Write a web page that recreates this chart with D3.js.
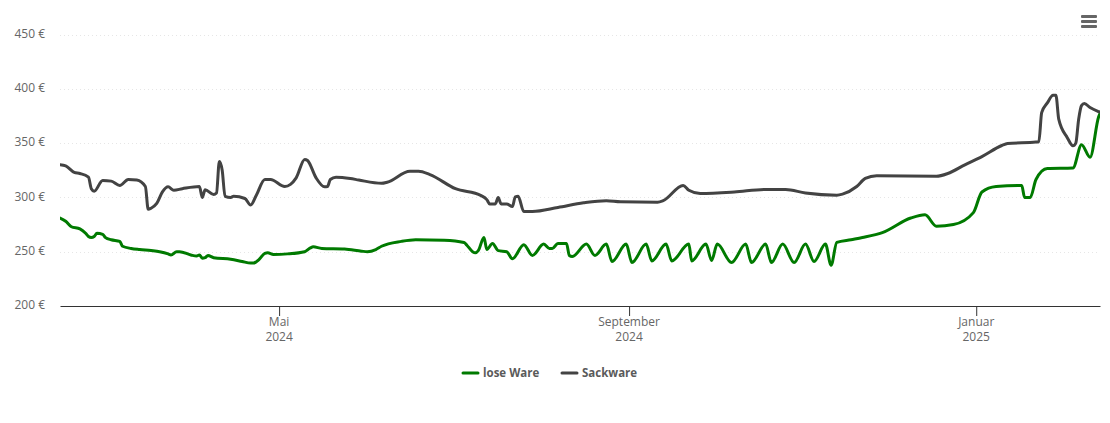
<!DOCTYPE html>
<html>
<head>
<meta charset="utf-8">
<script src="https://cdn.jsdelivr.net/npm/d3@7"></script>
<style>
  html, body { margin: 0; padding: 0; background: #fff; }
  text { font-family: "Open Sans", sans-serif; }
</style>
</head>
<body>
<svg id="chart" width="1110" height="423"></svg>
<script>
const START_DATE = new Date(2024, 1, 14);
const END_DATE = new Date(2025, 1, 13, 12);

const Y_TICKS = [200, 250, 300, 350, 400, 450];
const X_TICKS = [new Date(2024, 4, 1), new Date(2024, 8, 1), new Date(2025, 0, 1)];
const X_TICK_LABELS = [["Mai", "2024"], ["September", "2024"], ["Januar", "2025"]];
const SERIES_NAMES = ["lose Ware", "Sackware"];
const SERIES_COLORS = ["#007a00", "#434343"];

// days since START_DATE
const looseDays = [0, 2, 4, 7, 9, 10, 11, 12, 13, 15, 16, 18, 21, 22, 25, 28, 32, 35, 38, 39, 41, 42, 46, 48, 49, 50, 51, 52, 54, 60, 64, 67, 68, 70, 72, 73, 75, 80, 86, 88, 89, 92, 100, 106, 108, 111, 113, 120, 125, 135, 142, 143, 145, 146, 147, 149, 150, 152, 154, 157, 159, 163, 166, 170, 172, 173, 175, 178, 179, 180, 185, 188, 192, 194, 199, 201, 206, 208, 213, 215, 221, 222, 227, 229, 231, 236, 241, 243, 248, 250, 254, 258, 262, 265, 269, 271, 273, 278, 282, 289, 299, 304, 308, 314, 321, 324, 329, 338, 339, 341, 343, 347, 356, 359, 362, 365, 366];
const looseValues = [281, 278, 273, 271, 267, 264, 263, 264, 267, 266, 263, 261, 259.5, 255, 253, 252, 251, 250, 248, 247, 250, 250, 247, 246, 247, 244, 244.5, 246.5, 244.5, 243, 241, 239.5, 239.5, 243, 248.5, 249, 247.5, 248, 250, 253.5, 254.5, 253, 252.5, 250.5, 250, 252, 255, 259.5, 261, 260.5, 258.5, 256, 250, 249, 251, 263, 252, 257.5, 251, 250, 243.5, 256.5, 246.5, 257, 253, 253, 257.5, 257.5, 246.5, 245.5, 257, 246.5, 257, 241, 257, 240, 257, 241.5, 257, 241.5, 257, 241.5, 257, 242, 257, 240, 257, 240, 257, 240, 257, 240, 257, 241, 257, 237.5, 258.5, 261, 263, 267.5, 281, 284, 273.5, 275, 286, 305, 310, 311, 300, 300, 316.5, 326.5, 327, 348.5, 337, 374, 380];

const sackDays = [0, 2, 5, 7, 10, 11, 12, 15, 18, 21, 24, 27, 30, 31, 32, 34, 36, 38, 40, 43, 49, 50, 51, 54, 55, 56, 57, 58, 60, 61, 65, 67, 69, 72, 74, 79, 81, 83, 86, 87, 90, 93, 94, 95, 97, 102, 105, 113, 115, 123, 126, 130, 139, 148, 150, 151, 153, 154, 155, 157, 159, 160, 161, 163, 166, 175, 184, 192, 197, 210, 212, 219, 221, 225, 237, 248, 255, 262, 273, 275, 280, 283, 287, 308, 312, 318, 324, 331, 333, 343, 344, 345, 347, 349, 350, 351, 354, 356, 357, 358, 359, 360, 362, 365, 366];
const sackValues = [330, 329, 323, 322, 318.6, 308, 305.7, 315.6, 315, 311, 316.5, 316, 310, 289, 290, 294.4, 305, 309.7, 306.6, 308, 310, 300, 307, 302.6, 304, 333, 325, 301, 300, 301, 299, 293, 302, 316.5, 316.5, 310, 312, 318, 335, 334, 318, 309.7, 310, 316.5, 318.6, 317.4, 316, 313, 314, 324, 324, 321, 308, 301.7, 298, 294, 294, 300, 294, 294, 291.6, 300.5, 301, 287, 287, 290.7, 295, 297, 296, 295.6, 297, 311, 306.6, 303.6, 305, 307.3, 307.3, 304, 302, 303, 310, 317.5, 320, 319.5, 322, 330, 337.6, 347.8, 349.6, 351, 351.3, 378, 387, 394, 394, 372, 355, 347.5, 350, 372, 384.5, 386.5, 382.7, 379, 378];

const margin = { left: 60, right: 1100, top: 34.5, bottom: 306 };
const svg = d3.select("#chart");

const x = d3.scaleTime().domain([START_DATE, END_DATE]).range([margin.left, margin.right]);
const y = d3.scaleLinear().domain([200, 450]).range([margin.bottom, margin.top]);

const toPoints = (days, values) => days.map((d, i) => [d3.timeDay.offset(START_DATE, d), values[i]]);

// horizontal grid
const yAxis = svg.append("g")
  .attr("transform", `translate(${margin.left},0)`)
  .call(d3.axisLeft(y).tickValues(Y_TICKS).tickSize(0).tickPadding(15).tickFormat(d => d + " €"));
yAxis.select(".domain").remove();
yAxis.selectAll("text")
  .attr("font-size", 12)
  .attr("font-family", "Open Sans")
  .attr("fill", "#666")
  .attr("dy", "0.22em");

svg.append("g").selectAll("line")
  .data(Y_TICKS.filter(d => d > 200))
  .join("line")
  .attr("x1", margin.left)
  .attr("x2", margin.right)
  .attr("y1", d => Math.round(y(d)) + 0.5)
  .attr("y2", d => Math.round(y(d)) + 0.5)
  .attr("stroke", "#e6e6e6")
  .attr("stroke-dasharray", "1,3");

// time axis
const xAxis = svg.append("g")
  .attr("transform", `translate(0,${margin.bottom})`)
  .call(d3.axisBottom(x).tickValues(X_TICKS).tickSize(10).tickSizeOuter(0).tickFormat(""));
xAxis.select(".domain").attr("stroke", "#333");
xAxis.selectAll(".tick line").attr("stroke", "#333");
xAxis.selectAll(".tick text")
  .attr("y", 20)
  .attr("font-size", 12)
  .attr("font-family", "Open Sans")
  .attr("fill", "#666")
  .each(function(d, i) {
    const label = d3.select(this);
    X_TICK_LABELS[i].forEach((part, j) => {
      label.append("tspan").attr("x", -0.5).attr("dy", j ? 15 : 0).text(part);
    });
  });

svg.append("clipPath").attr("id", "plot-clip")
  .append("rect")
  .attr("x", margin.left)
  .attr("y", 0)
  .attr("width", margin.right - margin.left)
  .attr("height", margin.bottom);

const line = d3.line().x(d => x(d[0])).y(d => y(d[1])).curve(d3.curveMonotoneX);

const allSeries = [toPoints(looseDays, looseValues), toPoints(sackDays, sackValues)];

svg.append("g").attr("clip-path", "url(#plot-clip)")
  .selectAll("path")
  .data(allSeries)
  .join("path")
  .attr("d", line)
  .attr("fill", "none")
  .attr("stroke", (d, i) => SERIES_COLORS[i])
  .attr("stroke-width", 3)
  .attr("stroke-linejoin", "round")
  .attr("stroke-linecap", "round");

// legend
const legendX = [463, 562];
const legend = svg.append("g").selectAll("g")
  .data(SERIES_NAMES)
  .join("g")
  .attr("transform", (d, i) => `translate(${legendX[i]},373)`);
legend.append("line")
  .attr("x2", 15)
  .attr("stroke", (d, i) => SERIES_COLORS[i])
  .attr("stroke-width", 3)
  .attr("stroke-linecap", "round");
legend.append("text")
  .attr("x", 20)
  .attr("y", 4)
  .attr("font-size", 11.5)
  .attr("font-weight", "bold")
  .attr("fill", "#5a5a5a")
  .text(d => d);

// menu icon
svg.append("g").selectAll("rect")
  .data([0, 1, 2])
  .join("rect")
  .attr("x", 1081)
  .attr("y", d => 15 + d * 5)
  .attr("width", 16)
  .attr("height", 3)
  .attr("rx", 1)
  .attr("fill", "#666");
</script>
</body>
</html>
